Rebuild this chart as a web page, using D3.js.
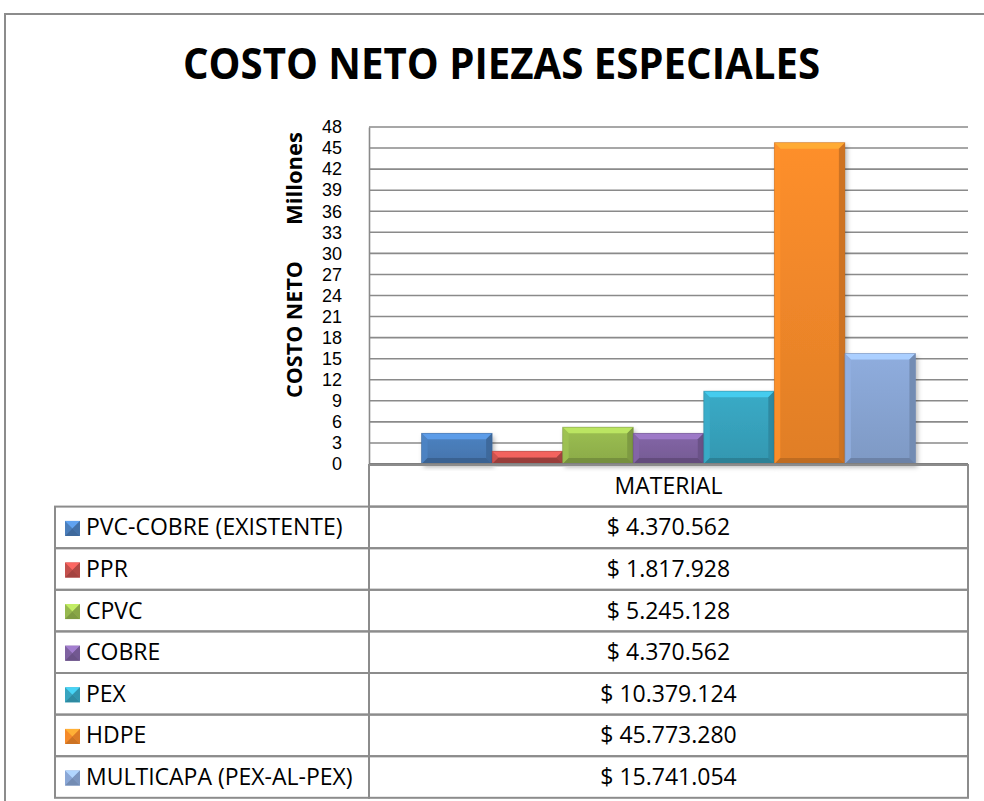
<!DOCTYPE html>
<html>
<head>
<meta charset="utf-8">
<script src="https://cdn.jsdelivr.net/npm/d3@7"></script>
<style>
  body { margin: 0; background: #fff; }
  text { font-family: "Open Sans", "Liberation Sans", sans-serif; fill: #000; }
</style>
</head>
<body>
<script>
// data
var materials = ["PVC-COBRE (EXISTENTE)", "PPR", "CPVC", "COBRE", "PEX", "HDPE", "MULTICAPA (PEX-AL-PEX)"];
var costs = [4370562, 1817928, 5245128, 4370562, 10379124, 45773280, 15741054];
var colors = ["#4a7ebb", "#c4504c", "#97b94f", "#7f62a1", "#38a5c0", "#f58a2a", "#8aa7d6"];
var yTicks = d3.range(0, 49, 3);

var outerWidth = 984, outerHeight = 801;
var plot = { left: 369, right: 968, top: 127, bottom: 464 };
var rowH = 41.6;
var headerTop = 465, headerBottom = 506.6;
var legendLeft = 55;

var svg = d3.select("body").append("svg")
  .attr("width", outerWidth)
  .attr("height", outerHeight);

var defs = svg.append("defs");

// chart border (runs off the page on the right and bottom)
svg.append("rect")
  .attr("x", 5).attr("y", 14)
  .attr("width", 1100).attr("height", 900)
  .attr("fill", "none")
  .attr("stroke", "#8c8c8c")
  .attr("stroke-width", 2);

// title
svg.append("text")
  .attr("x", 501.5).attr("y", 79)
  .attr("text-anchor", "middle")
  .attr("font-size", 43)
  .attr("font-weight", "bold")
  .attr("textLength", 637)
  .attr("lengthAdjust", "spacingAndGlyphs")
  .text("COSTO NETO PIEZAS ESPECIALES");

var xScale = d3.scaleBand()
  .domain(materials)
  .range([plot.left, plot.right])
  .paddingInner(0)
  .paddingOuter(0.745);

var yScale = d3.scaleLinear()
  .domain([0, 48])
  .range([plot.bottom, plot.top]);

// gridlines
svg.append("g")
  .selectAll("line")
  .data(yTicks.filter(d => d > 0))
  .enter()
  .append("line")
  .attr("x1", plot.left).attr("x2", plot.right)
  .attr("y1", d => yScale(d)).attr("y2", d => yScale(d))
  .attr("stroke", "#8a8a8a")
  .attr("stroke-width", 1.6);

// y axis
var yAxis = d3.axisLeft(yScale)
  .tickValues(yTicks)
  .tickSize(0)
  .tickPadding(27);

var gy = svg.append("g")
  .attr("transform", "translate(" + plot.left + ",0)")
  .call(yAxis);
gy.select(".domain").attr("stroke", "#8a8a8a").attr("stroke-width", 1.6);
gy.selectAll(".tick text")
  .style("font-size", "18px")
  .style("font-family", "'Liberation Sans', Arial, sans-serif")
  .attr("fill", "#000");

// axis titles
svg.append("text")
  .attr("transform", "translate(302,329.5) rotate(-90)")
  .attr("text-anchor", "middle")
  .attr("font-size", 21.5)
  .attr("font-weight", "bold")
  .text("COSTO NETO");
svg.append("text")
  .attr("transform", "translate(302,178.5) rotate(-90)")
  .attr("text-anchor", "middle")
  .attr("font-size", 22)
  .attr("font-weight", "bold")
  .text("Millones");

// bar shadow
var shadow = defs.append("filter").attr("id", "shadow")
  .attr("x", "-20%").attr("y", "-20%").attr("width", "140%").attr("height", "140%");
shadow.append("feDropShadow")
  .attr("dx", 2).attr("dy", 3)
  .attr("stdDeviation", 2.5)
  .attr("flood-color", "#000")
  .attr("flood-opacity", 0.3);

// face gradients
materials.forEach(function (m, i) {
  var c = d3.color(colors[i]);
  var g = defs.append("linearGradient")
    .attr("id", "face" + i)
    .attr("x1", 0).attr("y1", 0).attr("x2", 0).attr("y2", 1);
  g.append("stop").attr("offset", "0%").attr("stop-color", c.brighter(0.1));
  g.append("stop").attr("offset", "100%").attr("stop-color", c.darker(0.25));
});

var b = 6; // bevel size
var bars = svg.append("g").attr("class", "bars")
  .selectAll("g")
  .data(materials)
  .enter()
  .append("g");

bars.each(function (m, i) {
  var x0 = xScale(m), x1 = x0 + xScale.bandwidth();
  var y0 = yScale(costs[i] / 1e6), y1 = yScale(0);
  var bb = Math.min(b, (y1 - y0) / 2);
  var c = d3.color(colors[i]);
  var g = d3.select(this);
  g.append("rect")
    .attr("x", x0).attr("y", y0)
    .attr("width", x1 - x0).attr("height", y1 - y0)
    .attr("fill", "url(#face" + i + ")")
    .attr("filter", "url(#shadow)");
  var pt = function (arr) { return arr.map(p => p.join(",")).join(" "); };
  // top bevel
  g.append("polygon")
    .attr("points", pt([[x0, y0], [x1, y0], [x1 - bb, y0 + bb], [x0 + bb, y0 + bb]]))
    .attr("fill", c.brighter(0.6));
  // left bevel
  g.append("polygon")
    .attr("points", pt([[x0, y0], [x0 + bb, y0 + bb], [x0 + bb, y1 - bb], [x0, y1]]))
    .attr("fill", c.brighter(0.15))
    .attr("opacity", 0.8);
  // right bevel
  g.append("polygon")
    .attr("points", pt([[x1, y0], [x1, y1], [x1 - bb, y1 - bb], [x1 - bb, y0 + bb]]))
    .attr("fill", c.darker(0.5));
  // bottom bevel
  g.append("polygon")
    .attr("points", pt([[x0, y1], [x0 + bb, y1 - bb], [x1 - bb, y1 - bb], [x1, y1]]))
    .attr("fill", c.darker(0.7));
  g.append("rect")
    .attr("x", x0).attr("y", y0)
    .attr("width", x1 - x0).attr("height", y1 - y0)
    .attr("fill", "none")
    .attr("stroke", c.darker(0.8))
    .attr("stroke-opacity", 0.5)
    .attr("stroke-width", 0.8);
});

// zero line
svg.append("line")
  .attr("x1", plot.left).attr("x2", plot.right)
  .attr("y1", yScale(0)).attr("y2", yScale(0))
  .attr("stroke", "#808080")
  .attr("stroke-width", 2.2);

// data table
var locale = d3.formatLocale({ decimal: ",", thousands: ".", grouping: [3], currency: ["$ ", ""] });
var money = locale.format("$,.0f");

var table = svg.append("g").attr("class", "table");
var lineColor = "#8c8c8c";

// header
table.append("rect")
  .attr("x", plot.left).attr("y", headerTop)
  .attr("width", plot.right - plot.left).attr("height", headerBottom - headerTop)
  .attr("fill", "none").attr("stroke", lineColor).attr("stroke-width", 2);
table.append("text")
  .attr("x", (plot.left + plot.right) / 2)
  .attr("y", (headerTop + headerBottom) / 2 + 8)
  .attr("text-anchor", "middle")
  .attr("font-size", 23)
  .text("MATERIAL");

var rows = table.selectAll(".row")
  .data(materials)
  .enter()
  .append("g")
  .attr("class", "row")
  .attr("transform", (d, i) => "translate(0," + (headerBottom + i * rowH) + ")");

rows.append("rect")
  .attr("x", legendLeft).attr("y", 0)
  .attr("width", plot.left - legendLeft).attr("height", rowH)
  .attr("fill", "none").attr("stroke", lineColor).attr("stroke-width", 2);
rows.append("rect")
  .attr("x", plot.left).attr("y", 0)
  .attr("width", plot.right - plot.left).attr("height", rowH)
  .attr("fill", "none").attr("stroke", lineColor).attr("stroke-width", 2);

// legend keys (small bevelled squares)
rows.each(function (m, i) {
  var c = d3.color(colors[i]);
  var g = d3.select(this);
  var k = 15, kx = 65, ky = rowH / 2 - k / 2 + 1, cx = kx + k / 2, cy = ky + k / 2;
  var pt = function (arr) { return arr.map(p => p.join(",")).join(" "); };
  g.append("rect").attr("x", kx).attr("y", ky).attr("width", k).attr("height", k).attr("fill", c);
  g.append("polygon").attr("points", pt([[kx, ky], [kx + k, ky], [cx, cy]])).attr("fill", c.brighter(0.7));
  g.append("polygon").attr("points", pt([[kx, ky + k], [kx + k, ky + k], [cx, cy]])).attr("fill", c.darker(0.5));
  g.append("polygon").attr("points", pt([[kx + k, ky], [kx + k, ky + k], [cx, cy]])).attr("fill", c.darker(0.3));
});

rows.append("text")
  .attr("x", 86)
  .attr("y", rowH / 2 + 8)
  .attr("font-size", 23)
  .text(d => d);

rows.append("text")
  .attr("x", (plot.left + plot.right) / 2)
  .attr("y", rowH / 2 + 8)
  .attr("text-anchor", "middle")
  .attr("font-size", 23)
  .text((d, i) => money(costs[i]));
</script>
</body>
</html>
